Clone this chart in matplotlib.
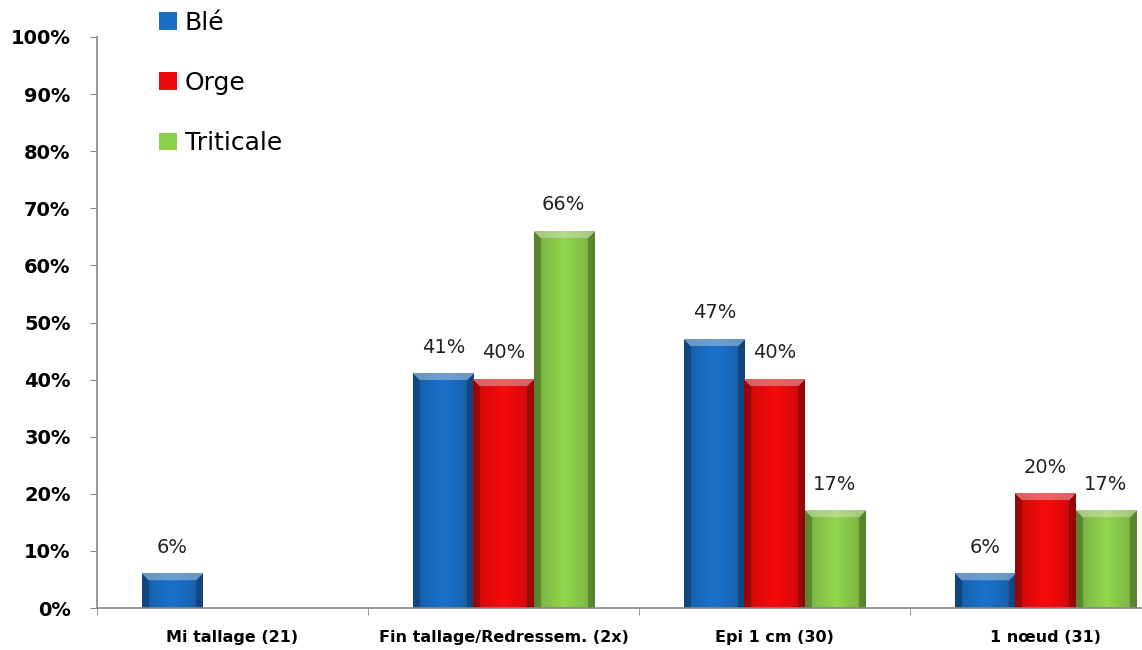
import numpy as np
import matplotlib
matplotlib.use("Agg")
import matplotlib.pyplot as plt
from matplotlib.colors import to_rgb
from matplotlib.patches import Patch

# Data
stades = ["Mi tallage (21)", "Fin tallage/Redressem. (2x)", "Epi 1 cm (30)", "1 nœud (31)"]
series = ["Blé", "Orge", "Triticale"]
ble = [6, 41, 47, 6]
orge = [0, 40, 40, 20]
triticale = [0, 66, 17, 17]
colors = ["#1a6ec4", "#ee0a0a", "#8ccf4a"]

plt.rcParams['font.family'] = ['DejaVu Sans']

W, H = 1142, 650
fig = plt.figure(figsize=(W / 100, H / 100), dpi=100)
ax = fig.add_axes([97 / W, 1 - 608 / H, (1181 - 97) / W, (608 - 37) / H])

x = np.arange(len(stades))
bw = 0.222
px_per_unit_x = (1181 - 97) / 4.0
px_per_unit_y = (608 - 37) / 100.0


def bar_image(color, wpx, hpx, bevel=7):
    # fake Excel bevel: light top, dark sides, bright middle
    base = np.array(to_rgb(color))
    xs = np.arange(wpx) + 0.5
    ys = np.arange(hpx) + 0.5
    X, Y = np.meshgrid(xs, ys)
    d_side = np.minimum(X, wpx - X)
    img = np.tile(base, (hpx, wpx, 1))
    center = 1 - np.abs(X - wpx / 2) / (wpx / 2)
    img = img * (0.84 + 0.2 * center[..., None])
    side = (d_side < bevel) & (d_side < Y)
    top = (Y < bevel) & (Y <= d_side)
    img[side] = img[side] * 0.75
    img[top] = img[top] * 0.6 + 0.4 * np.array([1, 1, 1]) * 0.9
    return np.clip(img, 0, 1)


for i, (vals, col) in enumerate(zip([ble, orge, triticale], colors)):
    offs = (i - 1) * bw
    for xi, v in zip(x, vals):
        if v <= 0:
            continue
        x0 = xi + offs - bw / 2
        wpx = int(round(bw * px_per_unit_x))
        hpx = max(int(round(v * px_per_unit_y)), 2)
        ax.imshow(bar_image(col, wpx, hpx), extent=(x0, x0 + bw, 0, v),
                  aspect='auto', interpolation='bilinear', zorder=2)
        ax.text(xi + offs, v + 3.0, f"{v}%", ha='center', va='bottom',
                fontsize=14, color='#222222')

ax.set_xlim(-0.5, 3.5)
ax.set_ylim(0, 100)

ax.set_yticks(np.arange(0, 101, 10))
ax.set_yticklabels([f"{t}%" for t in range(0, 101, 10)], fontsize=14, fontweight='bold')
ax.set_xticks(x)
ax.set_xticklabels(stades, fontsize=11.5, fontweight='bold')
ax.set_xticks(np.arange(-0.5, 3.6, 1), minor=True)
ax.tick_params(axis='x', which='major', length=0, pad=16)
ax.tick_params(axis='x', which='minor', length=5, color='#888888')
ax.tick_params(axis='y', length=5, color='#888888', pad=14)

for s in ['top', 'right']:
    ax.spines[s].set_visible(False)
for s in ['left', 'bottom']:
    ax.spines[s].set_color('#888888')
    ax.spines[s].set_linewidth(1.2)

handles = [Patch(facecolor=c, edgecolor='none') for c in colors]
fig.legend(handles, series, loc='upper left', bbox_to_anchor=(136 / W, 1 + 12 / H),
           frameon=False, fontsize=18, labelspacing=1.45, handlelength=0.75,
           handleheight=0.7, handletextpad=0.3)

fig.savefig("out.png", dpi=100)
